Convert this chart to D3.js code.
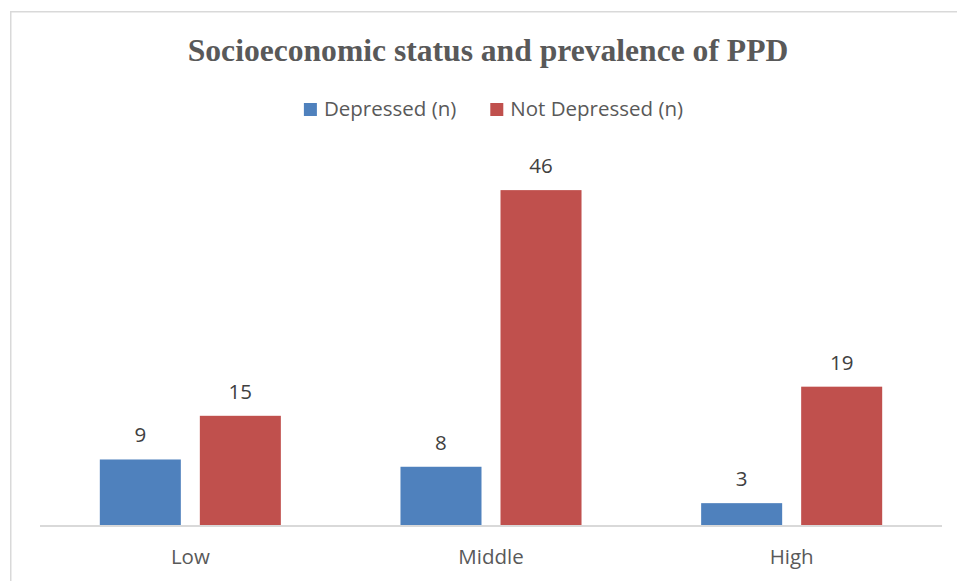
<!DOCTYPE html>
<html><head><meta charset="utf-8">
<script src="https://cdn.jsdelivr.net/npm/d3@7"></script>
<style>html,body{margin:0;padding:0;background:#fff;overflow:hidden}</style>
</head><body>
<svg id="chart" width="957" height="581"></svg>
<script>
const title = "Socioeconomic status and prevalence of PPD";
const categories = ["Low", "Middle", "High"];
const seriesNames = ["Depressed (n)", "Not Depressed (n)"];
const depressed = [9, 8, 3];
const notDepressed = [15, 46, 19];
const colors = ["#4F81BD", "#C0504D"];

const svg = d3.select("#chart");
const textColor = "#595959";
const font = "'Open Sans', sans-serif";

// chart frame
svg.append("rect").attr("x", 10.75).attr("y", 11.75).attr("width", 980).attr("height", 600)
  .attr("fill", "#fff").attr("stroke", "#d9d9d9").attr("stroke-width", 1.5);

const plot = {left: 40, right: 942, bottom: 525};
const x0 = d3.scaleBand().domain(categories).range([plot.left, plot.right]).padding(0);
const x1 = d3.scaleBand().domain(seriesNames).range([0, x0.bandwidth()]).paddingInner(0.19).paddingOuter(0.598);
const y = d3.scaleLinear().domain([0, 50]).range([plot.bottom, plot.bottom - 364]);

const rows = categories.map((c, i) => ({cat: c, vals: [depressed[i], notDepressed[i]]}));

// bars
const g = svg.append("g");
rows.forEach(r => {
  r.vals.forEach((v, j) => {
    const bx = x0(r.cat) + x1(seriesNames[j]);
    g.append("rect").attr("x", bx).attr("y", y(v)).attr("width", x1.bandwidth())
      .attr("height", y(0) - y(v)).attr("fill", colors[j]);
    g.append("text").attr("x", bx + x1.bandwidth() / 2).attr("y", y(v) - 17)
      .attr("text-anchor", "middle").attr("font-family", font).attr("font-size", 20.5)
      .attr("fill", "#404040").text(v);
  });
});

// x axis
const xAxis = d3.axisBottom(x0).tickSize(0).tickPadding(0);
const ax = svg.append("g").attr("transform", `translate(0,${plot.bottom + 1})`).call(xAxis);
ax.select(".domain").attr("stroke", "#d9d9d9").attr("stroke-width", 2).attr("d", `M${plot.left},0H${plot.right}`);
ax.selectAll(".tick text").attr("font-family", font).attr("font-size", 20.5)
  .attr("fill", textColor).attr("dy", null).attr("y", 38);

// title
svg.append("text").attr("x", 488).attr("y", 61).attr("text-anchor", "middle")
  .attr("font-family", "'Liberation Serif', 'Times New Roman', serif").attr("font-weight", "bold")
  .attr("font-size", 31.6).attr("fill", textColor).text(title);

// legend
const leg = svg.append("g");
let cx = 0;
seriesNames.forEach((s, j) => {
  const it = leg.append("g").attr("transform", `translate(${cx},0)`);
  it.append("rect").attr("x", 0).attr("y", 103).attr("width", 13).attr("height", 13).attr("fill", colors[j]);
  const t = it.append("text").attr("x", 20).attr("y", 116).attr("font-family", font)
    .attr("font-size", 20.5).attr("fill", textColor).text(s);
  cx += 20 + t.node().getComputedTextLength() + 34;
});
const legW = cx - 34;
leg.attr("transform", `translate(${493.5 - legW / 2},0)`);
</script>
</body></html>
